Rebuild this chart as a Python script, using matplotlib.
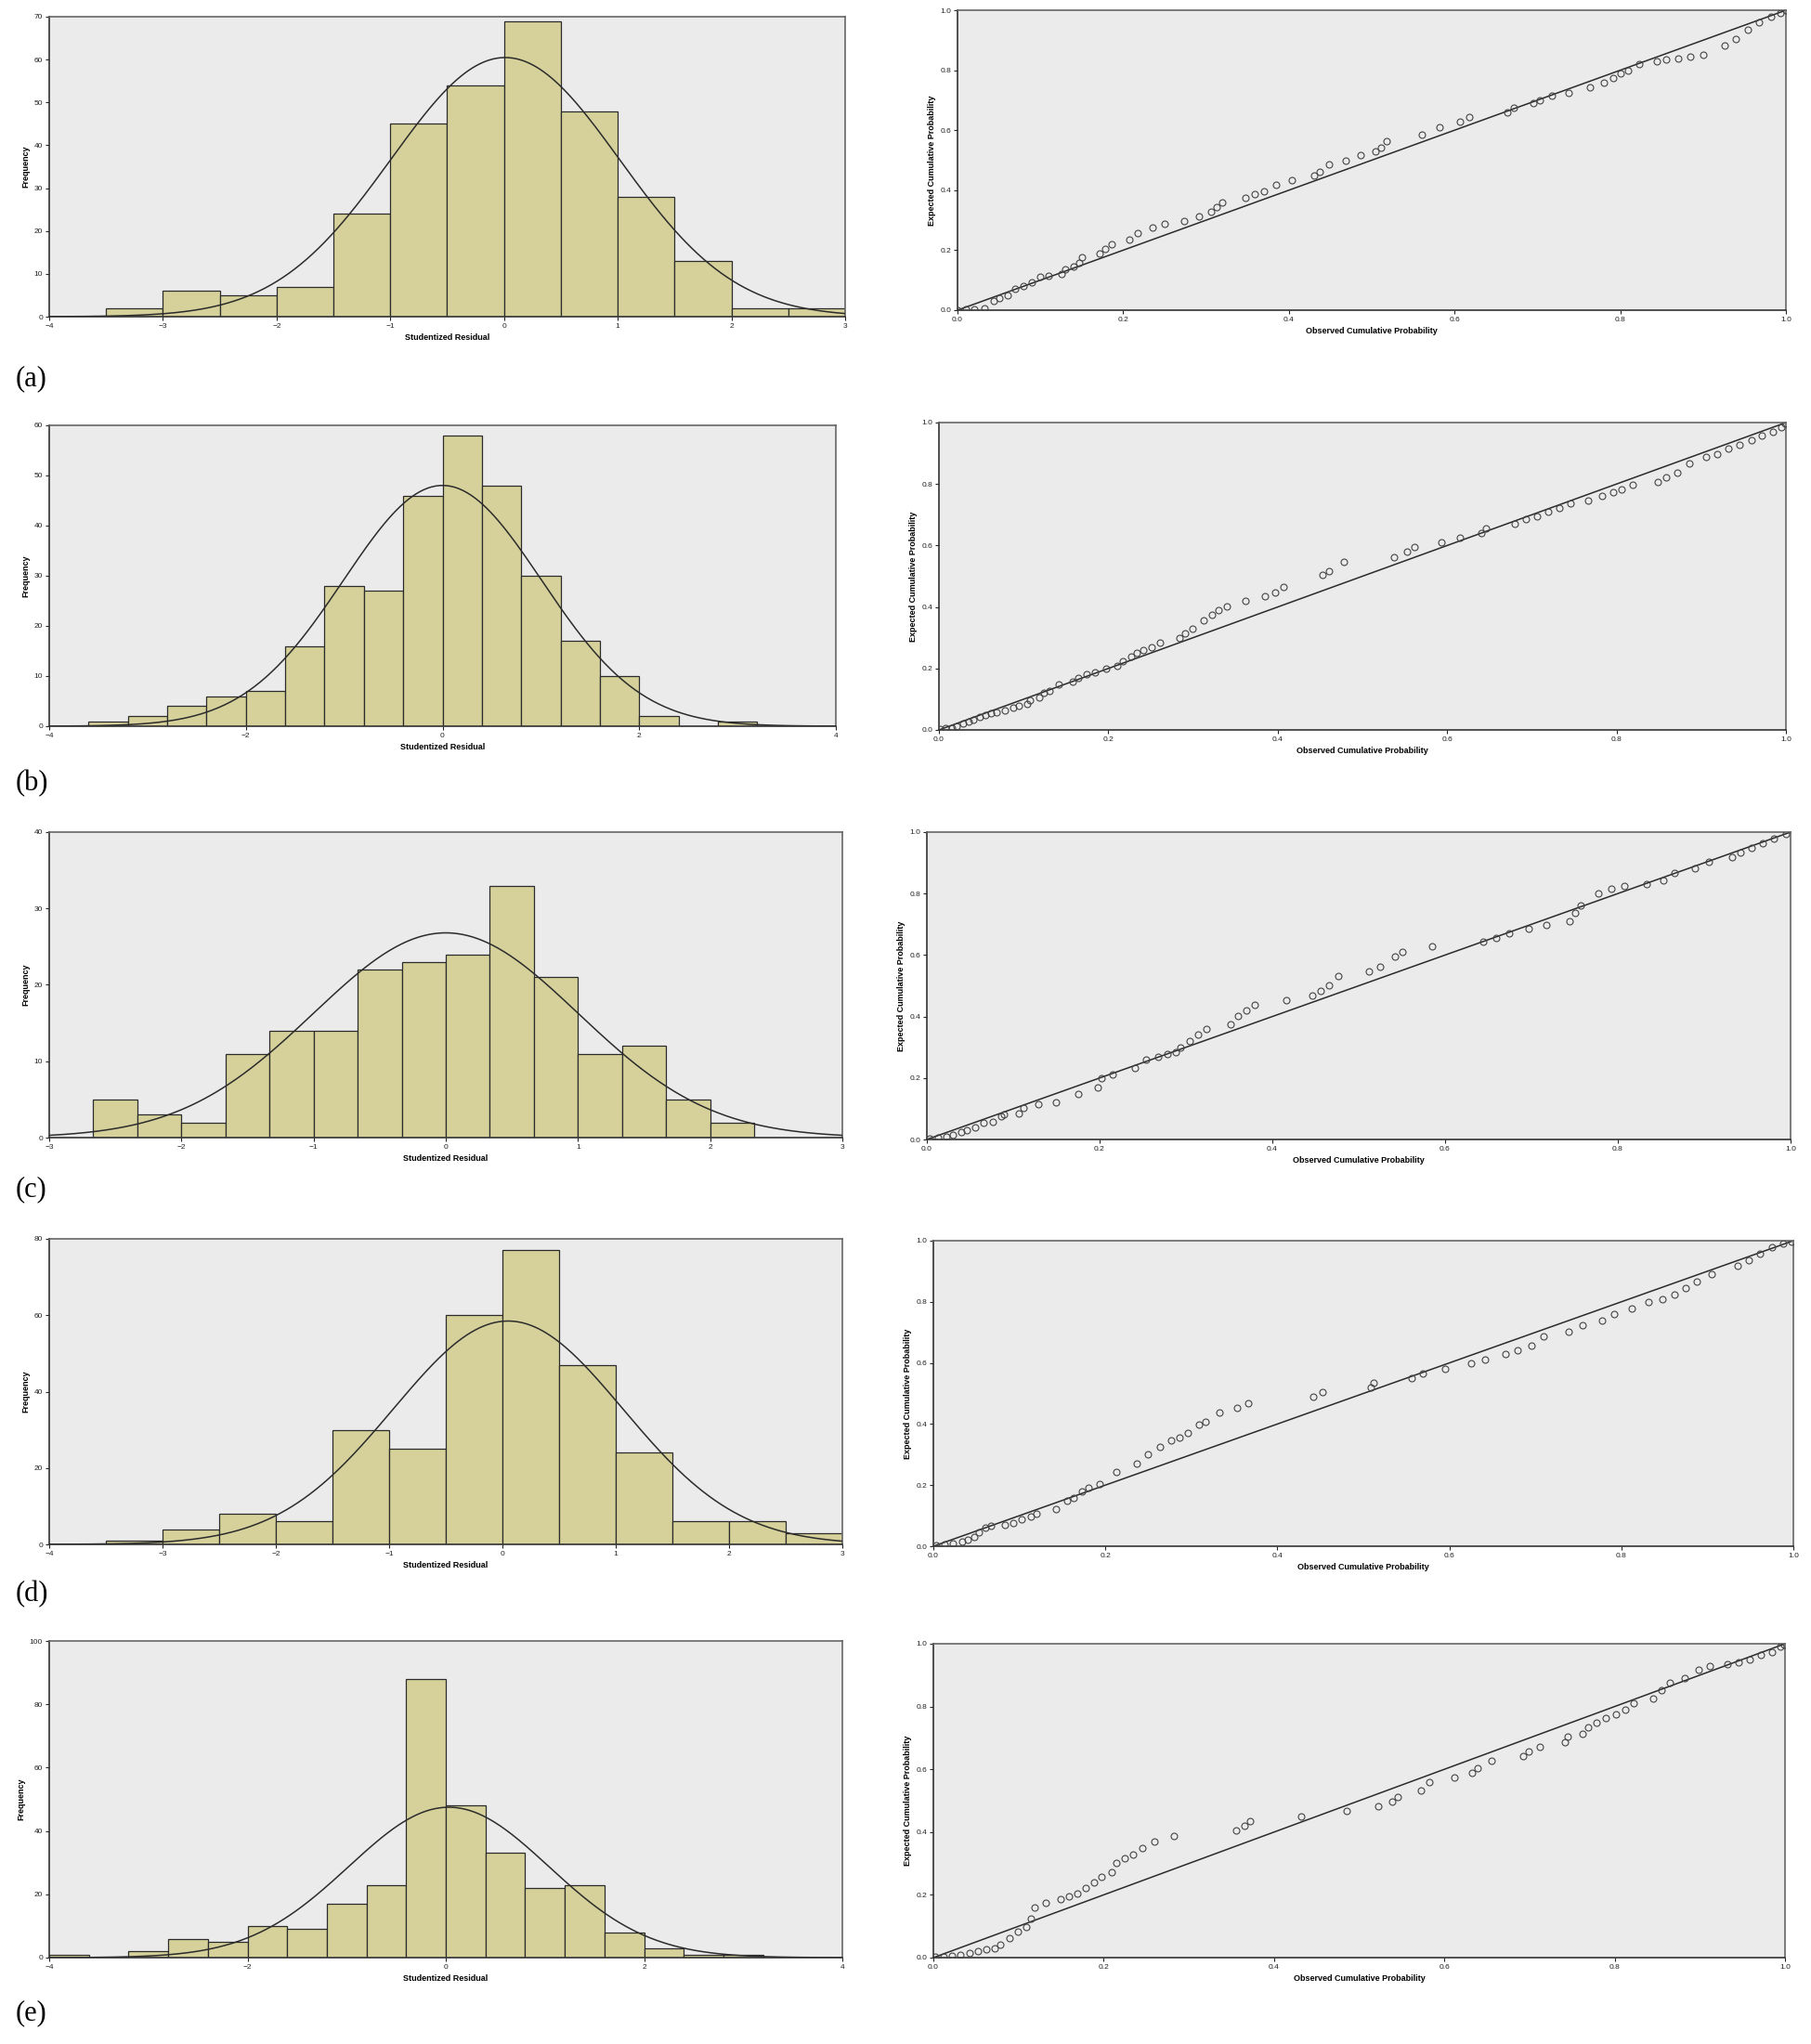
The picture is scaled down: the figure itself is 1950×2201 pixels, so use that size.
import numpy as np
import matplotlib
matplotlib.use("Agg")
import matplotlib.pyplot as plt

# ---------------- histogram data (counts per bin) ----------------
hist_a_counts = [2, 6, 5, 7, 24, 45, 54, 69, 48, 28, 13, 2, 2]
hist_a_start, hist_a_width = -3.5, 0.5
hist_a_mean, hist_a_sd = 0.01, 1.006

hist_b_counts = [1, 2, 4, 6, 7, 16, 28, 27, 46, 58, 48, 30, 17, 10, 2, 0, 1]
hist_b_start, hist_b_width = -3.6, 0.4
hist_b_mean, hist_b_sd = 0.0, 1.007

hist_c_counts = [5, 3, 2, 11, 14, 14, 22, 23, 24, 33, 21, 11, 12, 5, 2]
hist_c_start, hist_c_width = -8 / 3, 1 / 3
hist_c_mean, hist_c_sd = 0.0, 1.002

hist_d_counts = [1, 4, 8, 6, 30, 25, 60, 77, 47, 24, 6, 6, 3]
hist_d_start, hist_d_width = -3.5, 0.5
hist_d_mean, hist_d_sd = 0.05, 1.013

hist_e_counts = [1, 0, 2, 6, 5, 10, 9, 17, 23, 88, 48, 33, 22, 23, 8, 3, 1, 1]
hist_e_start, hist_e_width = -4.0, 0.4
hist_e_mean, hist_e_sd = 0.03, 1.008

# axis ranges / ticks
hist_xlims = [(-4, 3), (-4, 4), (-3, 3), (-4, 3), (-4, 4)]
hist_xticks = [range(-4, 4), range(-4, 5, 2), range(-3, 4), range(-4, 4), range(-4, 5, 2)]
hist_ylims = [70, 60, 40, 80, 100]
hist_ysteps = [10, 10, 10, 20, 20]

# ---------------- P-P plot data (observed, expected) ----------------
pp_a_obs = [0.0, 0.01, 0.02, 0.033, 0.044, 0.05, 0.06, 0.07, 0.08, 0.09, 0.10, 0.11, 0.125, 0.13,
            0.14, 0.147, 0.15, 0.171, 0.178, 0.186, 0.207, 0.217, 0.235, 0.25, 0.274, 0.292, 0.306,
            0.313, 0.319, 0.348, 0.359, 0.37, 0.384, 0.404, 0.43, 0.437, 0.448, 0.469, 0.487, 0.504,
            0.511, 0.518, 0.561, 0.582, 0.607, 0.618, 0.664, 0.671, 0.695, 0.703, 0.717, 0.738,
            0.763, 0.78, 0.791, 0.80, 0.809, 0.823, 0.844, 0.855, 0.87, 0.885, 0.90, 0.926, 0.94,
            0.954, 0.968, 0.982, 0.993, 1.0]
pp_a_exp = [0.0, 0.003, 0.002, 0.005, 0.03, 0.04, 0.05, 0.07, 0.08, 0.094, 0.11, 0.115, 0.12, 0.136,
            0.146, 0.157, 0.178, 0.188, 0.204, 0.22, 0.235, 0.256, 0.277, 0.287, 0.298, 0.313, 0.329,
            0.345, 0.36, 0.376, 0.387, 0.397, 0.418, 0.434, 0.45, 0.46, 0.486, 0.50, 0.517, 0.528,
            0.543, 0.564, 0.585, 0.611, 0.627, 0.643, 0.658, 0.674, 0.69, 0.70, 0.716, 0.726,
            0.742, 0.758, 0.773, 0.789, 0.80, 0.82, 0.83, 0.835, 0.84, 0.845, 0.85, 0.883, 0.905,
            0.935, 0.961, 0.977, 0.99, 1.0]

pp_b_obs = [0.001, 0.008, 0.015, 0.021, 0.028, 0.035, 0.041, 0.048, 0.055, 0.061, 0.068, 0.078,
            0.088, 0.094, 0.104, 0.108, 0.118, 0.124, 0.131, 0.141, 0.158, 0.164, 0.174, 0.184,
            0.197, 0.211, 0.217, 0.227, 0.234, 0.241, 0.251, 0.261, 0.284, 0.291, 0.299, 0.313,
            0.322, 0.33, 0.34, 0.362, 0.385, 0.397, 0.407, 0.453, 0.46, 0.478, 0.537, 0.553, 0.561,
            0.593, 0.615, 0.64, 0.646, 0.68, 0.693, 0.706, 0.719, 0.733, 0.746, 0.766, 0.783,
            0.796, 0.806, 0.819, 0.849, 0.859, 0.872, 0.886, 0.906, 0.919, 0.932, 0.945, 0.959,
            0.972, 0.985, 0.995, 0.999]
pp_b_exp = [0.003, 0.005, 0.007, 0.013, 0.02, 0.027, 0.032, 0.041, 0.048, 0.053, 0.058, 0.063,
            0.071, 0.078, 0.086, 0.096, 0.107, 0.122, 0.127, 0.147, 0.157, 0.17, 0.18, 0.188,
            0.198, 0.208, 0.223, 0.239, 0.251, 0.259, 0.269, 0.284, 0.299, 0.315, 0.33, 0.355,
            0.376, 0.391, 0.401, 0.419, 0.434, 0.447, 0.466, 0.505, 0.518, 0.546, 0.563, 0.579,
            0.594, 0.611, 0.624, 0.64, 0.655, 0.67, 0.685, 0.695, 0.711, 0.721, 0.736, 0.746,
            0.761, 0.772, 0.782, 0.797, 0.807, 0.822, 0.838, 0.868, 0.888, 0.898, 0.914, 0.929,
            0.944, 0.959, 0.97, 0.985, 0.998]

pp_c_obs = [0.003, 0.013, 0.023, 0.03, 0.04, 0.046, 0.056, 0.066, 0.076, 0.086, 0.089, 0.106,
            0.112, 0.129, 0.149, 0.175, 0.198, 0.202, 0.215, 0.241, 0.254, 0.268, 0.278, 0.288,
            0.294, 0.304, 0.314, 0.324, 0.352, 0.36, 0.37, 0.38, 0.416, 0.446, 0.456, 0.466,
            0.476, 0.512, 0.525, 0.542, 0.551, 0.585, 0.644, 0.659, 0.674, 0.697, 0.717, 0.744,
            0.75, 0.757, 0.777, 0.793, 0.808, 0.833, 0.853, 0.866, 0.889, 0.905, 0.932, 0.942,
            0.955, 0.968, 0.981, 0.995]
pp_c_exp = [0.003, 0.007, 0.01, 0.015, 0.025, 0.03, 0.038, 0.054, 0.058, 0.076, 0.081, 0.086,
            0.102, 0.115, 0.122, 0.147, 0.168, 0.198, 0.21, 0.234, 0.259, 0.269, 0.277, 0.284,
            0.299, 0.32, 0.34, 0.36, 0.376, 0.401, 0.421, 0.439, 0.452, 0.467, 0.482, 0.503,
            0.533, 0.548, 0.563, 0.594, 0.609, 0.627, 0.642, 0.655, 0.67, 0.685, 0.697, 0.711,
            0.736, 0.761, 0.802, 0.815, 0.825, 0.832, 0.843, 0.868, 0.883, 0.904, 0.919, 0.934,
            0.949, 0.964, 0.98, 0.995]

pp_d_obs = [0.003, 0.013, 0.023, 0.033, 0.04, 0.047, 0.053, 0.06, 0.067, 0.083, 0.093, 0.103,
            0.113, 0.12, 0.143, 0.156, 0.163, 0.173, 0.18, 0.193, 0.213, 0.236, 0.249, 0.263,
            0.276, 0.286, 0.296, 0.309, 0.316, 0.333, 0.353, 0.366, 0.442, 0.452, 0.509, 0.512,
            0.556, 0.569, 0.595, 0.625, 0.642, 0.665, 0.679, 0.695, 0.709, 0.739, 0.755, 0.778,
            0.792, 0.812, 0.832, 0.848, 0.862, 0.875, 0.888, 0.905, 0.935, 0.948, 0.961, 0.975,
            0.988, 0.998]
pp_d_exp = [0.002, 0.005, 0.01, 0.015, 0.02, 0.031, 0.046, 0.061, 0.066, 0.071, 0.076, 0.087,
            0.097, 0.107, 0.122, 0.148, 0.158, 0.178, 0.193, 0.204, 0.244, 0.27, 0.3, 0.326,
            0.346, 0.356, 0.372, 0.397, 0.407, 0.438, 0.453, 0.468, 0.489, 0.504, 0.519, 0.535,
            0.55, 0.565, 0.58, 0.598, 0.611, 0.629, 0.64, 0.656, 0.687, 0.703, 0.723, 0.738,
            0.759, 0.779, 0.799, 0.81, 0.825, 0.845, 0.866, 0.891, 0.917, 0.937, 0.957, 0.978,
            0.99, 0.998]

pp_e_obs = [0.002, 0.012, 0.022, 0.032, 0.042, 0.052, 0.062, 0.072, 0.079, 0.089, 0.099, 0.109,
            0.115, 0.119, 0.132, 0.149, 0.159, 0.169, 0.179, 0.189, 0.197, 0.209, 0.215, 0.225,
            0.235, 0.245, 0.259, 0.282, 0.355, 0.365, 0.372, 0.432, 0.485, 0.522, 0.539, 0.545,
            0.572, 0.582, 0.612, 0.632, 0.639, 0.655, 0.692, 0.699, 0.712, 0.742, 0.745, 0.762,
            0.769, 0.779, 0.789, 0.802, 0.812, 0.822, 0.845, 0.855, 0.865, 0.882, 0.899, 0.912,
            0.932, 0.945, 0.959, 0.972, 0.985, 0.995, 0.999]
pp_e_exp = [0.002, 0.003, 0.005, 0.01, 0.015, 0.021, 0.026, 0.031, 0.041, 0.062, 0.082, 0.097,
            0.123, 0.159, 0.174, 0.185, 0.195, 0.205, 0.221, 0.241, 0.256, 0.272, 0.303, 0.318,
            0.328, 0.349, 0.369, 0.388, 0.405, 0.421, 0.436, 0.451, 0.467, 0.482, 0.497, 0.513,
            0.533, 0.559, 0.574, 0.59, 0.605, 0.626, 0.641, 0.656, 0.672, 0.687, 0.703, 0.713,
            0.733, 0.749, 0.764, 0.774, 0.79, 0.81, 0.826, 0.851, 0.877, 0.892, 0.918, 0.93,
            0.936, 0.941, 0.951, 0.964, 0.974, 0.99, 0.998]

panel_tags = ["(a)", "(b)", "(c)", "(d)", "(e)"]

hists = [
    (hist_a_counts, hist_a_start, hist_a_width, hist_a_mean, hist_a_sd),
    (hist_b_counts, hist_b_start, hist_b_width, hist_b_mean, hist_b_sd),
    (hist_c_counts, hist_c_start, hist_c_width, hist_c_mean, hist_c_sd),
    (hist_d_counts, hist_d_start, hist_d_width, hist_d_mean, hist_d_sd),
    (hist_e_counts, hist_e_start, hist_e_width, hist_e_mean, hist_e_sd),
]
pps = [(pp_a_obs, pp_a_exp), (pp_b_obs, pp_b_exp), (pp_c_obs, pp_c_exp),
       (pp_d_obs, pp_d_exp), (pp_e_obs, pp_e_exp)]

# pixel boxes (left, right, top, bottom) on the 1950x2201 canvas
hist_boxes = [(53, 910, 18, 341), (53, 900, 458, 782), (53, 907, 896, 1225),
              (53, 907, 1334, 1663), (53, 907, 1767, 2108)]
pp_boxes = [(1031, 1923, 11, 334), (1011, 1923, 455, 786), (998, 1928, 896, 1227),
            (1005, 1931, 1336, 1665), (1005, 1922, 1770, 2108)]
tag_y = [408, 844, 1281, 1717, 2168]

W, H = 1950, 2201
BG = "#ebebeb"
BAR = "#d6d19b"
TICKFONT = dict(family="Liberation Sans", size=6)
LABELFONT = dict(family="Liberation Sans", size=6.5, weight="bold")

fig = plt.figure(figsize=(W / 100, H / 100), dpi=100)


def make_axes(box):
    l, r, t, b = box
    return fig.add_axes([l / W, 1 - b / H, (r - l) / W, (b - t) / H])


def style(ax):
    ax.set_facecolor(BG)
    for side in ["left", "bottom"]:
        ax.spines[side].set_color("#333333")
        ax.spines[side].set_linewidth(1.2)
    for side in ["top", "right"]:
        ax.spines[side].set_color("#666666")
        ax.spines[side].set_linewidth(1.2)
    ax.tick_params(direction="out", length=3, width=0.8, pad=2, colors="#222222")
    for lab in ax.get_xticklabels() + ax.get_yticklabels():
        lab.set_fontfamily(TICKFONT["family"])
        lab.set_fontsize(TICKFONT["size"])


for i in range(5):
    # histogram with normal curve
    counts, start, width, mu, sd = hists[i]
    ax = make_axes(hist_boxes[i])
    lefts = start + width * np.arange(len(counts))
    ax.bar(lefts, counts, width=width, align="edge", color=BAR,
           edgecolor="#2b2b2b", linewidth=0.9, zorder=2)
    x0, x1 = hist_xlims[i]
    xs = np.linspace(x0, x1, 400)
    n = sum(counts)
    curve = n * width * np.exp(-0.5 * ((xs - mu) / sd) ** 2) / (sd * np.sqrt(2 * np.pi))
    ax.plot(xs, curve, color="#2b2b2b", linewidth=1.1, zorder=3)
    ax.set_xlim(x0, x1)
    ax.set_ylim(0, hist_ylims[i])
    ax.set_xticks(list(hist_xticks[i]))
    ax.set_yticks(range(0, hist_ylims[i] + 1, hist_ysteps[i]))
    style(ax)
    ax.set_xlabel("Studentized Residual", fontdict=LABELFONT, labelpad=3)
    ax.set_ylabel("Frequency", fontdict=LABELFONT, labelpad=3)

    # P-P plot
    obs, exp = pps[i]
    ax2 = make_axes(pp_boxes[i])
    ax2.plot([0, 1], [0, 1], color="#2b2b2b", linewidth=1.1, zorder=2)
    ax2.plot(obs, exp, linestyle="none", marker="o", markersize=5,
             markerfacecolor="none", markeredgecolor="#444444",
             markeredgewidth=0.8, zorder=3)
    ax2.set_xlim(0, 1)
    ax2.set_ylim(0, 1)
    ticks = [0.0, 0.2, 0.4, 0.6, 0.8, 1.0]
    ax2.set_xticks(ticks)
    ax2.set_yticks(ticks)
    ax2.set_xticklabels(["%.1f" % t for t in ticks])
    ax2.set_yticklabels(["%.1f" % t for t in ticks])
    style(ax2)
    ax2.set_xlabel("Observed Cumulative Probability", fontdict=LABELFONT, labelpad=3)
    ax2.set_ylabel("Expected Cumulative Probability", fontdict=LABELFONT, labelpad=3)

    # panel tag
    fig.text(17 / W, 1 - tag_y[i] / H, panel_tags[i], family="Liberation Serif",
             fontsize=22, va="center", ha="left")

fig.savefig("out.png", dpi=100, facecolor="white")
